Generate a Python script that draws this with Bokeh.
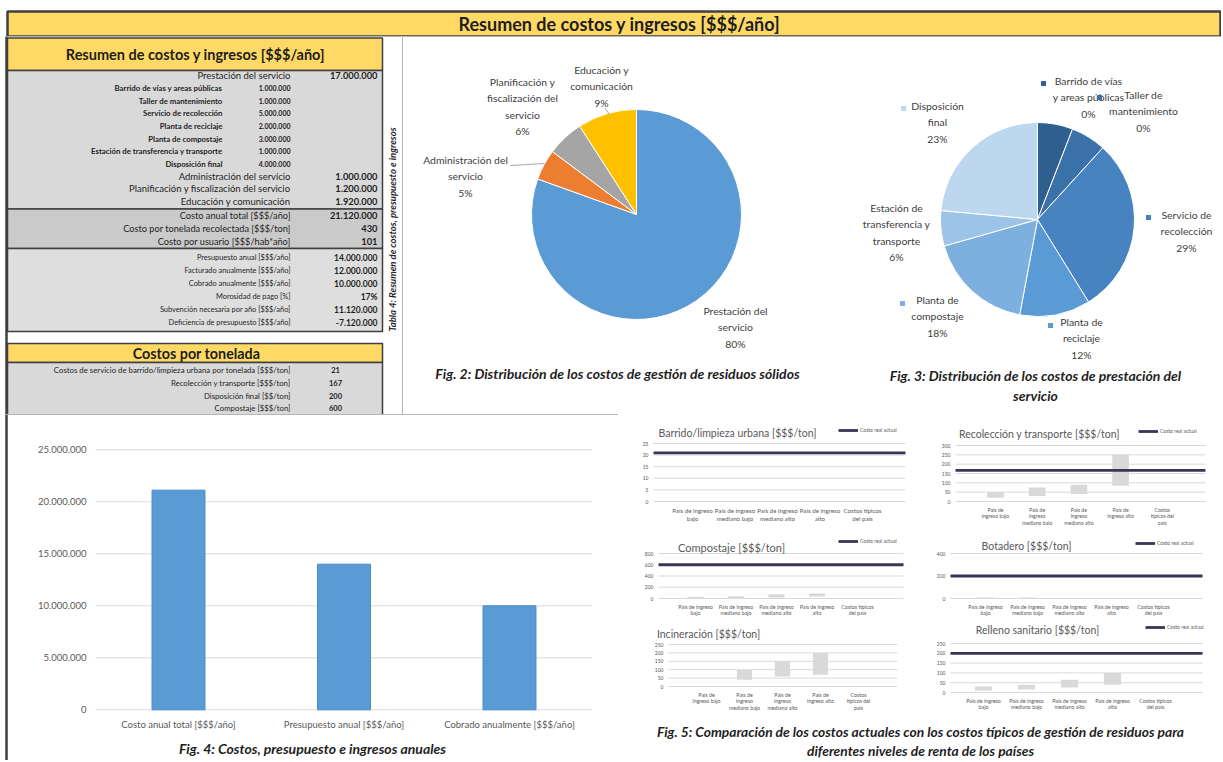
import math
import textwrap
from bokeh.plotting import figure
from bokeh.layouts import column, row
from bokeh.models import Range1d, FixedTicker
from bokeh.core.properties import value
from bokeh.embed import file_html
from bokeh.resources import INLINE

FONT = "Lato"
YELLOW = "#FFD966"
EDGE = "#3F3F3F"
GREY_TXT = "#595959"
DARK = "#1E1E1E"
LINE_COL = "#3B3456"

# ------------------------------------------------------------------ DATA
page_title = "Resumen de costos y ingresos [$$$/año]"
table_title = "Resumen de costos y ingresos [$$$/año]"
side_caption = "Tabla 4: Resumen de costos, presupuesto e ingresos"

service_items = ["Prestación del servicio", "Administración del servicio",
                 "Planificación y fiscalización del servicio", "Educación y comunicación"]
service_costs = [17000000, 1000000, 1200000, 1920000]

provision_items = ["Barrido de vías y areas públicas", "Taller de mantenimiento",
                   "Servicio de recolección", "Planta de reciclaje", "Planta de compostaje",
                   "Estación de transferencia y transporte", "Disposición final"]
provision_costs = [1000000, 1000000, 5000000, 2000000, 3000000, 1000000, 4000000]

summary_items = ["Costo anual total [$$$/año]", "Costo por tonelada recolectada [$$$/ton]",
                 "Costo por usuario [$$$/hab*año]"]
summary_values = [21120000, 430, 101]

budget_items = ["Presupuesto anual [$$$/año]", "Facturado anualmente [$$$/año]",
                "Cobrado anualmente [$$$/año]", "Morosidad de pago [%]",
                "Subvención necesaria por año [$$$/año]", "Deficiencia de presupuesto [$$$/año]"]
budget_values = [14000000, 12000000, 10000000, 17, 11120000, -7120000]
budget_units = ["", "", "", "%", "", ""]

ton_title = "Costos por tonelada"
ton_items = ["Costos de servicio de barrido/limpieza urbana por tonelada [$$$/ton]",
             "Recolección y transporte [$$$/ton]", "Disposición final [$$/ton]",
             "Compostaje [$$$/ton]"]
ton_values = [21, 167, 200, 600]

pie1_names = ["Prestación del\nservicio", "Administración del\nservicio",
              "Planificación y\nfiscalización del\nservicio", "Educación y\ncomunicación"]
pie1_colors = ["#5B9BD5", "#ED7D31", "#A5A5A5", "#FFC000"]
pie1_caption = "Fig. 2: Distribución de los costos de gestión de residuos sólidos"

pie2_names = ["Barrido de vías\ny areas públicas", "Taller de\nmantenimiento",
              "Servicio de\nrecolección", "Planta de\nreciclaje", "Planta de\ncompostaje",
              "Estación de\ntransferencia y\ntransporte", "Disposición\nfinal"]
pie2_pct = ["0%", "0%", "29%", "12%", "18%", "6%", "23%"]
pie2_colors = ["#2F5F8F", "#3A71A9", "#4683C0", "#5B9BD5", "#7DAFDF", "#9DC3E6", "#BDD7EE"]
pie2_marker = [True, True, True, True, True, False, True]
pie2_caption = "Fig. 3: Distribución de los costos de prestación del\nservicio"

bar_categories = ["Costo anual total [$$$/año]", "Presupuesto anual [$$$/año]",
                  "Cobrado anualmente [$$$/año]"]
bar_values = [21120000, 14000000, 10000000]
bar_ticks = [0, 5000000, 10000000, 15000000, 20000000, 25000000]
bar_tick_labels = ["0", "5.000.000", "10.000.000", "15.000.000", "20.000.000", "25.000.000"]
bar_caption = "Fig. 4: Costos, presupuesto e ingresos anuales"

income_levels = ["País de ingreso bajo", "País de ingreso mediano bajo",
                 "País de ingreso mediano alto", "País de ingreso alto",
                 "Costos típicos del país"]
actual_cost_label = "Costo real actual"

range_titles = ["Barrido/limpieza urbana [$$$/ton]", "Recolección y transporte [$$$/ton]",
                "Compostaje [$$$/ton]", "Botadero [$$$/ton]", "Incineración [$$$/ton]",
                "Relleno sanitario [$$$/ton]"]
barrido_low = [None, None, None, None, None]
barrido_high = [None, None, None, None, None]
recoleccion_low = [20, 30, 40, 85, None]
recoleccion_high = [50, 75, 90, 250, None]
compostaje_low = [5, 10, 20, 35, None]
compostaje_high = [30, 40, 75, 90, None]
botadero_low = [2, 3, None, None, None]
botadero_high = [8, 10, None, None, None]
incineracion_low = [None, 40, 60, 70, None]
incineracion_high = [None, 100, 150, 200, None]
relleno_low = [10, 15, 25, 40, None]
relleno_high = [30, 40, 65, 100, None]
range_lows = [barrido_low, recoleccion_low, compostaje_low, botadero_low, incineracion_low, relleno_low]
range_highs = [barrido_high, recoleccion_high, compostaje_high, botadero_high, incineracion_high, relleno_high]
range_actual = [ton_values[0], ton_values[1], ton_values[3], ton_values[2], None, ton_values[2]]
range_ticks = [[0, 5, 10, 15, 20, 25], [0, 50, 100, 150, 200, 250, 300], [0, 200, 400, 600, 800],
               [0, 200, 400], [0, 50, 100, 150, 200, 250], [0, 50, 100, 150, 200, 250]]
fig5_caption = ("Fig. 5: Comparación de los costos actuales con los costos típicos de gestión de residuos para\n"
                "diferentes niveles de renta de los países")

# ------------------------------------------------------------------ layout (page px)
X_SPLIT_MID = 402      # table | pies
X_SPLIT_BOT = 618      # bar | small charts
X_RIGHT = 1221
Y_TITLE = 36
Y_MID = 414
Y_BOT = 760
ROW_EDGES = [414, 525, 620, 718]


def fmt(v):
    s = f"{abs(v):,}".replace(",", ".")
    return ("-" if v < 0 else "") + s


def base_fig(x0, x1, y0, y1):
    p = figure(width=x1 - x0, height=y1 - y0, x_range=Range1d(x0, x1), y_range=Range1d(-y1, -y0),
               output_backend="svg", toolbar_location=None, min_border=0,
               x_axis_location=None, y_axis_location=None)
    p.grid.visible = False
    p.outline_line_color = None
    p.background_fill_color = "white"
    p.border_fill_color = "white"
    return p


def txt(p, xs, ys, texts, size, style="normal", align="center", baseline="middle",
        color=DARK, angle=0.0, lh=1.2):
    p.text(x=list(xs), y=list(ys), text=list(texts), text_font=value(FONT),
           text_font_size=f"{size}px", text_font_style=style, text_align=align,
           text_baseline=baseline, text_color=color, angle=angle, text_line_height=lh)


def N(vals):
    return [-v for v in vals]


def frame_box(p, l, t, r, b, width=2.5):
    p.quad(left=[l], right=[r], top=[-t], bottom=[-b], fill_color=None,
           line_color=EDGE, line_width=width)

# ------------------------------------------------------------------ title bar
tf = base_fig(0, X_RIGHT, 0, Y_TITLE)
tf.quad(left=[7], right=[X_RIGHT - 1], top=[-11], bottom=[-36], fill_color=YELLOW,
        line_color=EDGE, line_width=2.5)
txt(tf, [619], [-23], [page_title], 18, "bold")

# ------------------------------------------------------------------ table
tp = base_fig(0, X_SPLIT_MID, Y_TITLE, Y_MID)
blocks = [(37.5, 70, YELLOW), (70, 208.5, "#D9D9D9"), (208.5, 248, "#CACACA"),
          (248, 331, "#DEDEDE"), (343, 362, YELLOW), (362, 420, "#D9D9D9")]
tp.quad(left=[7] * len(blocks), right=[382] * len(blocks),
        top=[-b[0] for b in blocks], bottom=[-b[1] for b in blocks],
        fill_color=[b[2] for b in blocks], line_color=EDGE, line_width=1.5)
frame_box(tp, 6, 35, X_SPLIT_MID + 1, Y_MID + 1)
txt(tp, [195], [-54], [table_title], 14.5, "bold")
txt(tp, [196], [-352.5], [ton_title], 14.3, "bold")

rows_A = [75 + 12.6 * k for k in range(11)]
main_rows = [rows_A[0], rows_A[8], rows_A[9], rows_A[10]]
sub_rows = rows_A[1:8]
txt(tp, [290] * 4, N(main_rows), service_items, 9.5, "normal", "right")
txt(tp, [377] * 4, N(main_rows), [fmt(v) for v in service_costs], 9.3, "bold", "right")
txt(tp, [222] * 7, N(sub_rows), provision_items, 7.8, "bold", "right")
txt(tp, [290] * 7, N(sub_rows), [fmt(v) for v in provision_costs], 7, "bold", "right")

rows_B = [215 + 13 * k for k in range(3)]
txt(tp, [290] * 3, N(rows_B), summary_items, 9.2, "normal", "right")
txt(tp, [377] * 3, N(rows_B), [fmt(v) for v in summary_values], 9.3, "bold", "right")

rows_C = [257 + 13 * k for k in range(6)]
txt(tp, [290] * 6, N(rows_C), budget_items, 7.4, "normal", "right")
txt(tp, [377] * 6, N(rows_C), [fmt(v) + u for v, u in zip(budget_values, budget_units)],
    8.5, "bold", "right")

rows_D = [369, 382, 395, 407.5]
txt(tp, [290] * 4, N(rows_D), ton_items, 7.8, "normal", "right")
txt(tp, [335] * 4, N(rows_D), [str(v) for v in ton_values], 7.5, "bold", "center")

txt(tp, [392], [-229], [side_caption], 9.5, "bold italic", angle=math.pi / 2)

# ------------------------------------------------------------------ pies
pp = base_fig(X_SPLIT_MID, X_RIGHT, Y_TITLE, Y_MID)
frame_box(pp, X_SPLIT_MID - 1, 35, X_RIGHT + 5, Y_MID + 1)


def pie_angles(vals):
    total = float(sum(vals))
    starts, ends, acc = [], [], 0.0
    for v in vals:
        starts.append(math.pi / 2 - acc / total * 2 * math.pi)
        acc += v
        ends.append(math.pi / 2 - acc / total * 2 * math.pi)
    return starts, ends


s1, e1 = pie_angles(service_costs)
pp.wedge(x=636, y=-214, radius=105, start_angle=s1, end_angle=e1, direction="clock",
         fill_color=pie1_colors, line_color="white", line_width=1)
tot1 = sum(service_costs)
pie1_text = [f"{n}\n{round(v / tot1 * 100)}%" for n, v in zip(pie1_names, service_costs)]
pie1_pos = [(735, 327), (465, 176), (522, 106), (601, 86)]
txt(pp, [p[0] for p in pie1_pos], N([p[1] for p in pie1_pos]), pie1_text, 10.4,
    color="#404040", lh=1.35)
pp.segment(x0=[510, 604], y0=[-165, -107], x1=[544, 609], y1=[-163, -114],
           line_color="#A6A6A6", line_width=1)
txt(pp, [617], [-373], [pie1_caption], 14, "bold italic")

s2, e2 = pie_angles(provision_costs)
pp.wedge(x=1037, y=-219, radius=97, start_angle=s2, end_angle=e2, direction="clock",
         fill_color=pie2_colors, line_color="white", line_width=1)
pie2_text = [f"{n}\n{pc}" for n, pc in zip(pie2_names, pie2_pct)]
pie2_pos = [(1088, 97), (1143, 111), (1186, 231), (1081, 338), (937, 316), (896, 232), (937, 122)]
txt(pp, [p[0] for p in pie2_pos], N([p[1] for p in pie2_pos]), pie2_text, 10.4,
    color="#404040", lh=1.35)
mk_pos = [(1043, 83), (1099, 97), (1148, 217), (1050, 325), (902, 303), None, (903, 108)]
mx = [m[0] for m, f in zip(mk_pos, pie2_marker) if f]
my = [-m[1] for m, f in zip(mk_pos, pie2_marker) if f]
mc = [c for c, f in zip(pie2_colors, pie2_marker) if f]
pp.scatter(x=mx, y=my, marker="square", size=5, fill_color=mc, line_color=None)
txt(pp, [1035], [-385], [pie2_caption], 14, "bold italic", lh=1.15)

# ------------------------------------------------------------------ bar chart
BX0, BDX = 178.0, 165.5
BY0, BPX = 709.3, 260.0 / 25000000


def bx(rx):
    return (rx - BX0) / BDX


def by(ry):
    return (BY0 - ry) / BPX


bp = figure(width=X_SPLIT_BOT, height=Y_BOT - Y_MID, x_range=Range1d(bx(0), bx(X_SPLIT_BOT)),
            y_range=Range1d(by(Y_BOT), by(Y_MID)), output_backend="svg",
            toolbar_location=None, min_border=0)
bp.grid.visible = False
bp.background_fill_color = "white"
bp.border_fill_color = "white"
bp.outline_line_color = None
bp.quad(left=[bx(6)], right=[bx(X_SPLIT_BOT + 1)], top=[by(Y_MID - 1)], bottom=[by(Y_BOT + 10)],
        fill_color=None, line_color=EDGE, line_width=2.5)
idx = list(range(len(bar_categories)))
bp.segment(x0=bx(95), x1=bx(592), y0=bar_ticks, y1=bar_ticks, line_color="#D9D9D9",
           line_width=1)
bp.vbar(x=idx, top=bar_values, width=0.32, fill_color="#5B9BD5", line_color="#4A8CCB",
        line_width=1)
yax = bp.yaxis[0]
yax.fixed_location = bx(95)
yax.ticker = FixedTicker(ticks=bar_ticks)
yax.major_label_overrides = {t: l for t, l in zip(bar_ticks, bar_tick_labels)}
xax = bp.xaxis[0]
xax.fixed_location = 0
xax.ticker = FixedTicker(ticks=idx)
xax.major_label_overrides = {i: c for i, c in zip(idx, bar_categories)}
for ax in (yax, xax):
    ax.axis_line_color = None
    ax.major_tick_line_color = None
    ax.minor_tick_line_color = None
    ax.major_tick_out = 0
    ax.major_tick_in = 0
    ax.minor_tick_out = 0
    ax.major_label_text_font = FONT
    ax.major_label_text_font_size = "9.5px"
    ax.major_label_text_color = GREY_TXT
yax.major_label_standoff = 9
xax.major_label_standoff = 9
bp.text(x=[bx(312)], y=[by(748)], text=[bar_caption], text_font=value(FONT),
        text_font_size="14px", text_font_style="bold italic", text_align="center",
        text_baseline="middle", text_color=DARK)

# ------------------------------------------------------------------ range charts
# (frame x, zero line y, top tick y, top tick value, first category x, category step,
#  title position, wrap width, label font size, legend position)
cfg = [
    ((653, 905), 501, 443, 25, 692, 42.5, (737, 432), 15, 6.2, (838, 433)),
    ((955, 1205), 501, 445, 300, 995, 41.7, (1039, 433), 12, 5.2, (1138, 434)),
    ((658, 903), 598, 553, 800, 695, 40.5, (731, 547), 15, 5.3, (838, 544)),
    ((950, 1202), 598, 553, 400, 985, 42.0, (1026, 545), 15, 5.3, (1135, 546)),
    ((668, 897), 686, 644, 250, 706, 38.0, (708, 633), 12, 5.3, None),
    ((950, 1202), 692, 643, 250, 983, 43.0, (1037, 629), 15, 5.3, (1145, 630)),
]
col_edges = [X_SPLIT_BOT, 920, X_RIGHT]

small = []
for k, (fr, zero, tpy, tval, cat0, dcat, tpos, wrap, lfs, lgpos) in enumerate(cfg):
    l, r = col_edges[k % 2], col_edges[k % 2 + 1]
    t, b = ROW_EDGES[k // 2], ROW_EDGES[k // 2 + 1]
    pxu = (zero - tpy) / tval

    def dx(rx, cat0=cat0, dcat=dcat):
        return (rx - cat0) / dcat

    def dy(ry, zero=zero, pxu=pxu):
        return (zero - ry) / pxu

    p = figure(width=r - l, height=b - t, x_range=Range1d(dx(l), dx(r)),
               y_range=Range1d(dy(b), dy(t)), output_backend="svg",
               toolbar_location=None, min_border=0)
    p.background_fill_color = "white"
    p.border_fill_color = "white"
    p.outline_line_color = None
    p.grid.visible = False
    ticks = range_ticks[k]
    p.segment(x0=dx(fr[0]), x1=dx(fr[1]), y0=ticks, y1=ticks, line_color="#D9D9D9",
              line_width=1)
    cats = list(range(len(income_levels)))
    ya = p.yaxis[0]
    xa = p.xaxis[0]
    ya.fixed_location = dx(fr[0])
    xa.fixed_location = 0
    ya.ticker = FixedTicker(ticks=ticks)
    xa.ticker = FixedTicker(ticks=cats)
    xa.major_label_overrides = {i: textwrap.fill(c, wrap) for i, c in zip(cats, income_levels)}
    for ax in (xa, ya):
        ax.axis_line_color = None
        ax.major_tick_line_color = None
        ax.minor_tick_line_color = None
        ax.major_tick_out = 0
        ax.major_tick_in = 0
        ax.minor_tick_out = 0
        ax.major_label_text_font = FONT
        ax.major_label_text_color = GREY_TXT
    ya.major_label_text_font_size = "5px"
    ya.major_label_standoff = 5
    xa.major_label_text_font_size = f"{lfs}px"
    xa.major_label_text_line_height = 1.15
    xa.major_label_standoff = 5

    lows, highs = range_lows[k], range_highs[k]
    xs = [i for i in cats if lows[i] is not None]
    if xs:
        p.vbar(x=xs, bottom=[lows[i] for i in xs], top=[highs[i] for i in xs], width=0.4,
               fill_color="#D9D9D9", line_color=None)
    act = range_actual[k]
    if act is not None:
        p.line(x=[dx(fr[0]), dx(fr[1])], y=[act, act], line_color=LINE_COL, line_width=2.8,
               legend_label=actual_cost_label)
        lg = p.legend[0]
        lg.location = ((lgpos[0] - l), (b - lgpos[1]))
        lg.margin = 0
        lg.padding = 0
        lg.spacing = 0
        lg.label_text_font = FONT
        lg.label_text_font_size = "5px"
        lg.label_text_color = GREY_TXT
        lg.glyph_width = 20
        lg.glyph_height = 6
        lg.label_height = 6
        lg.label_standoff = 2
        lg.border_line_color = None
        lg.background_fill_alpha = 0
    p.text(x=[dx(tpos[0])], y=[dy(tpos[1])], text=[range_titles[k]],
           text_font=value(FONT), text_font_size="11px" if k == 2 else "10.5px",
           text_align="center", text_baseline="middle", text_color=GREY_TXT)
    small.append(p)

cp = base_fig(X_SPLIT_BOT, X_RIGHT, ROW_EDGES[-1], Y_BOT)
txt(cp, [920], [-740.5], [fig5_caption], 13.8, "bold italic", lh=1.15)

right_block = column(row(small[0], small[1]), row(small[2], small[3]),
                     row(small[4], small[5]), cp)
layout = column(tf, row(tp, pp), row(bp, right_block))

open("out.html", "w").write(file_html(layout, INLINE, "Resumen de costos y ingresos"))
